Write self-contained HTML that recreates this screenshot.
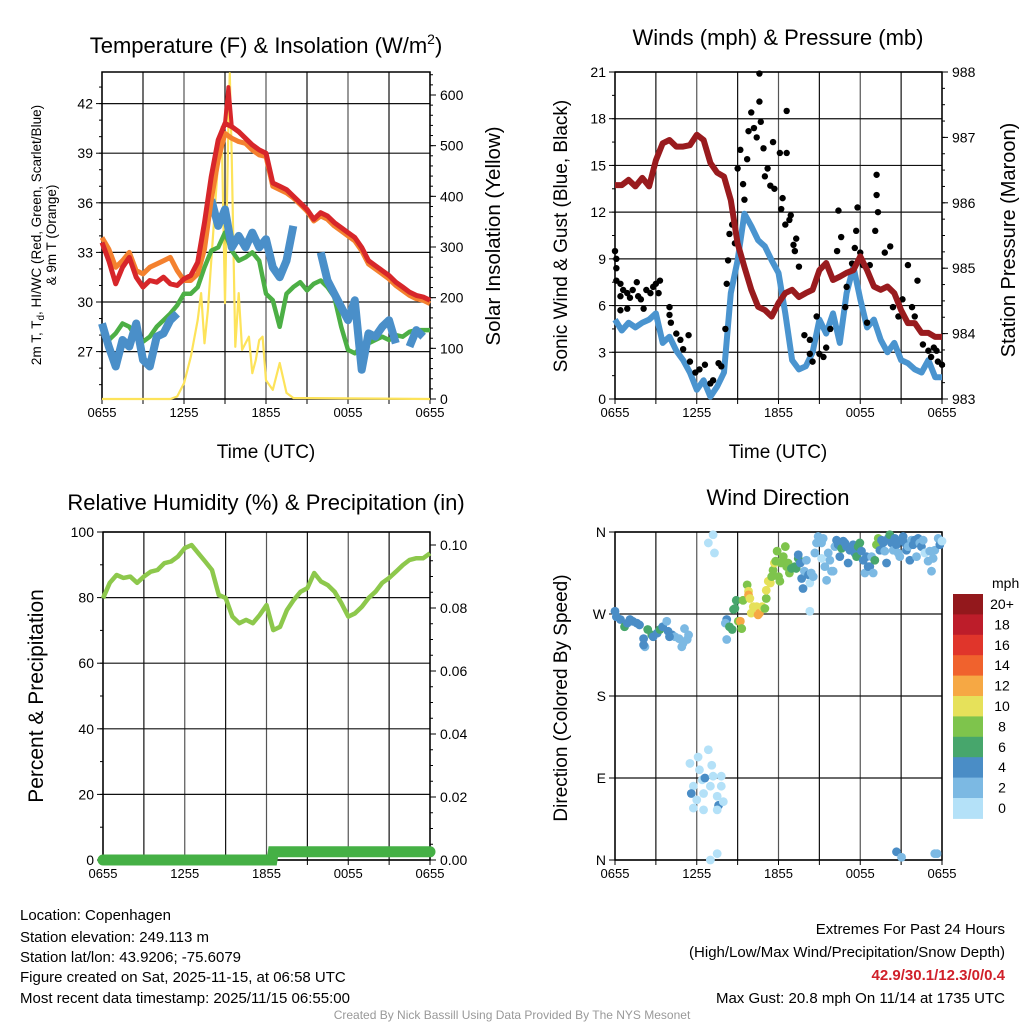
<!DOCTYPE html>
<html><head><meta charset="utf-8"><style>
html,body{margin:0;padding:0;background:#fff;}
svg{display:block;font-family:"Liberation Sans",Arial,sans-serif;}
</style></head><body>
<svg id="c" width="1024" height="1024" viewBox="0 0 1024 1024">
<rect x="0" y="0" width="1024" height="1024" fill="#fff"/>
<text x="266" y="53" font-size="22" text-anchor="middle">Temperature (F) &amp; Insolation (W/m<tspan font-size="14" dy="-9">2</tspan><tspan dy="9">)</tspan></text>
<text x="778" y="45" font-size="22" text-anchor="middle">Winds (mph) &amp; Pressure (mb)</text>
<text x="266" y="510" font-size="22" text-anchor="middle">Relative Humidity (%) &amp; Precipitation (in)</text>
<text x="778" y="505" font-size="22" text-anchor="middle">Wind Direction</text>
<text x="266" y="458" font-size="19" text-anchor="middle">Time (UTC)</text>
<text x="778" y="458" font-size="19" text-anchor="middle">Time (UTC)</text>
<text transform="translate(41,235) rotate(-90)" font-size="13.5" text-anchor="middle">2m T, T<tspan font-size="10" dy="3">d</tspan><tspan dy="-3">, HI/WC (Red, Green, Scarlet/Blue)</tspan></text>
<text transform="translate(56,235) rotate(-90)" font-size="13.5" text-anchor="middle">&amp; 9m T (Orange)</text>
<text transform="translate(500,236) rotate(-90)" font-size="20.5" text-anchor="middle">Solar Insolation (Yellow)</text>
<text transform="translate(567,236) rotate(-90)" font-size="19" text-anchor="middle">Sonic Wind &amp; Gust (Blue, Black)</text>
<text transform="translate(1015,240) rotate(-90)" font-size="20" text-anchor="middle">Station Pressure (Maroon)</text>
<text transform="translate(43,696) rotate(-90)" font-size="21" text-anchor="middle">Percent &amp; Precipitation</text>
<text transform="translate(567,698) rotate(-90)" font-size="19" text-anchor="middle">Direction (Colored By Speed)</text>
<g font-size="15">
<text x="20" y="920">Location: Copenhagen</text>
<text x="20" y="942">Station elevation: 249.113 m</text>
<text x="20" y="962">Station lat/lon: 43.9206; -75.6079</text>
<text x="20" y="982">Figure created on Sat, 2025-11-15, at 06:58 UTC</text>
<text x="20" y="1003">Most recent data timestamp: 2025/11/15 06:55:00</text>
</g>
<g font-size="15" text-anchor="end">
<text x="1005" y="934">Extremes For Past 24 Hours</text>
<text x="1005" y="957">(High/Low/Max Wind/Precipitation/Snow Depth)</text>
<text x="1005" y="980" fill="#d0202a" font-weight="bold">42.9/30.1/12.3/0/0.4</text>
<text x="1005" y="1003">Max Gust: 20.8 mph On 11/14 at 1735 UTC</text>
</g>
<text x="512" y="1019" font-size="12" fill="#999" text-anchor="middle">Created By Nick Bassill Using Data Provided By The NYS Mesonet</text>
</svg>
<script>
// ---------- data ----------
const xTickLabels = ["0655","1255","1855","0055","0655"];
const halfHours = Array.from({length:49},(_,i)=>i*0.5);
const tempRed = [33.6,32.5,31.1,32.1,32.7,31.5,30.9,31.3,31.2,31.5,31.1,31.0,31.4,31.6,32.4,34.8,37.6,39.8,40.8,40.6,40.3,39.9,39.5,39.2,39.0,37.2,37.0,36.8,36.4,36.0,35.6,35.0,35.4,35.2,34.8,34.5,34.2,33.9,33.3,32.5,32.2,31.9,31.6,31.2,30.9,30.6,30.4,30.3,30.1];
const tempOrange = [33.9,33.2,32.1,32.5,33.0,31.9,31.7,32.1,32.3,32.5,32.7,31.9,31.3,31.3,31.7,33.2,36.2,38.6,40.2,39.9,39.7,39.6,39.2,38.9,38.8,37.0,36.8,36.6,36.3,35.9,35.5,34.9,35.2,35.0,34.6,34.3,34.0,33.7,33.1,32.3,32.0,31.7,31.4,31.0,30.7,30.4,30.2,30.1,29.9];
const tempPeakHour = [9.0,9.25,9.5];
const tempPeakValue = [40.8,43.0,40.6];
const dewGreen = [28.2,27.7,28.1,28.7,28.5,27.9,27.6,27.9,28.5,28.9,29.3,29.8,30.5,30.5,30.9,32.1,33.1,33.3,34.2,33.1,32.5,32.7,33.0,32.5,30.5,30.1,28.5,30.5,30.9,31.2,30.7,31.1,31.3,30.9,30.3,28.5,27.1,26.9,27.3,27.5,27.7,27.9,27.7,28.0,27.9,28.2,28.3,28.3,28.3];
const wcBlue = [28.7,27.3,26.1,27.7,27.3,28.7,26.5,26.1,27.9,28.1,28.9,29.3,null,null,null,null,36.2,34.6,35.6,33.3,34.0,33.3,34.2,33.3,33.8,32.1,31.5,32.5,34.6,null,null,null,33.0,31.3,30.5,29.7,28.9,30.1,25.9,28.1,27.9,28.5,28.9,27.5,null,27.3,28.3,27.9,null];
const solarHours = [0,5,5.5,6,6.5,7,7.25,7.5,7.75,8,8.25,8.5,8.75,9,9.25,9.35,9.5,9.75,10,10.25,10.5,10.75,11,11.25,11.5,11.75,12,12.5,13,13.5,14,24];
const solarValues = [0,0,5,31,83,156,209,110,175,274,373,471,537,189,537,643,471,103,209,97,110,123,51,77,116,123,37,18,71,12,2,0];
const pressure = [986.27,986.27,986.35,986.25,986.38,986.25,986.65,986.91,986.96,986.86,986.86,986.88,987.04,986.96,986.61,986.46,986.40,986.04,985.38,985.02,984.67,984.41,984.36,984.26,984.47,984.62,984.67,984.56,984.62,984.67,984.97,985.08,984.82,984.87,984.93,984.97,985.18,984.97,984.72,984.67,984.72,984.62,984.36,984.16,984.16,984.01,984.01,983.95,983.95];
const windSpeed = [5.1,4.4,4.9,4.6,4.9,5.1,5.5,3.6,4.0,3.1,2.5,1.7,0.6,1.2,0.15,0.8,1.7,6.8,8.9,11.9,11.1,10.2,9.8,8.9,8.1,5.5,2.5,1.9,2.1,3.0,5.1,4.2,5.5,3.6,6.8,8.5,6.4,4.6,5.1,3.8,3.0,3.6,2.5,2.3,1.9,1.7,2.5,1.4,1.4];
const gustHours = [0,0.1,0.1,0.1,0.4,0.6,0.4,0.9,1.1,1.3,1.6,1.7,1.9,2.1,2.3,2.6,2.8,3.0,3.3,3.2,0.4,0.9,4.0,4.0,4.1,4.5,4.8,5.4,5.0,5.5,5.9,6.2,6.6,7.0,7.2,7.6,7.8,8.1,8.2,8.3,8.4,8.6,8.8,9.0,9.2,9.4,9.5,9.7,9.8,10.0,10.2,10.4,10.6,10.6,10.7,10.9,11.0,11.2,11.4,11.6,11.7,12.1,12.2,12.3,12.5,12.6,12.6,12.8,12.9,13.1,13.2,13.3,13.5,13.9,14.3,14.3,14.5,14.8,15.0,15.3,15.5,15.8,16.3,16.4,16.6,16.9,17.0,17.4,17.6,17.7,17.8,18.0,18.2,18.5,18.7,19.1,19.2,19.2,19.3,19.8,20.2,20.4,20.8,21.1,21.5,21.8,22.0,22.2,22.6,23.0,23.2,23.6,23.7,24.0,23.4];
const gustValues = [9.5,9.0,8.4,7.6,7.4,7.0,6.6,6.8,6.5,7.0,7.5,6.6,6.4,5.8,7.0,6.8,7.2,7.4,7.6,6.8,5.7,5.8,5.9,5.4,4.9,4.2,3.8,4.1,3.2,2.4,1.7,1.9,2.2,1.0,1.2,2.3,2.1,4.5,7.4,8.9,10.6,11.2,10.0,14.8,16.0,13.8,12.8,15.4,17.2,18.4,17.4,16.8,19.1,20.9,17.8,16.1,14.3,14.8,13.7,16.5,13.5,15.8,12.2,12.9,11.2,18.5,15.8,11.5,11.8,9.9,9.5,10.3,8.5,4.1,3.8,2.9,2.4,5.3,2.9,2.7,3.3,4.5,9.5,12.1,10.4,5.9,7.2,8.7,9.7,10.8,12.3,9.4,8.6,4.9,8.6,10.8,13.1,14.4,12.0,9.4,9.8,5.9,5.3,6.4,8.6,5.9,5.3,7.6,3.5,3.1,2.7,3.1,2.4,2.2,3.3];
const rhValues = [79.8,84.5,86.9,86.0,86.4,84.5,86.4,87.9,88.4,90.5,91.0,92.5,95.1,96.0,93.5,91.0,88.4,80.8,79.9,74.2,72.2,73.2,72.2,74.7,77.7,70.1,71.1,76.2,79.3,81.8,82.9,87.5,84.9,83.8,81.8,78.3,74.2,75.2,77.2,79.9,81.8,84.5,86.0,87.9,89.9,91.5,92.0,92.0,93.5];
const precipHours = [0,12.4,12.5,24];
const precipValues = [0,0,0.0026,0.0026];
const dirHours = [0,0.1,0.4,0.7,0.9,1.1,1.3,1.6,1.8,2.1,2.2,2.1,2.4,2.7,2.8,3.1,3.3,3.5,3.8,3.9,4.2,4.4,4.7,4.9,5.0,5.1,5.4,5.3,4.0,
5.5,5.75,5.6,6.0,6.1,6.2,6.4,6.5,6.6,6.85,7.1,7.2,7.0,7.5,7.6,7.8,7.8,7.95,5.75,6.5,7.5,7.0,7.5,6.85,7.3,7.2,
8.2,8.1,8.2,8.4,8.6,8.7,8.8,8.9,9.05,9.2,9.3,9.4,9.7,9.8,9.8,9.9,10.0,10.15,10.4,10.5,10.6,10.8,11.0,11.1,11.1,11.25,11.4,11.5,11.6,11.7,11.8,11.9,12.0,12.1,12.2,12.35,12.5,12.6,12.7,12.8,12.95,13.2,13.3,13.45,13.45,13.6,13.7,13.8,13.9,14.05,14.2,14.3,14.4,14.55,14.3,
14.67,14.79,14.91,15.04,15.16,15.16,15.28,15.4,15.53,15.65,15.77,15.89,16.01,16.14,16.26,16.38,16.5,16.63,16.75,16.87,16.99,17.11,17.24,17.36,17.48,17.6,17.73,17.85,17.97,18.09,18.22,18.34,18.46,18.58,18.7,18.83,18.95,19.07,19.19,19.32,19.44,19.56,19.68,19.8,19.93,20.05,20.17,20.29,20.42,20.54,20.66,20.78,20.9,21.03,21.15,21.27,21.39,21.51,21.64,21.76,21.88,22.0,22.13,22.25,22.37,22.49,22.62,22.74,22.98,23.1,23.23,23.35,23.47,23.72,23.84,23.96,24.0,
20.66,21.03,23.47,23.64];
const dirDegrees = [273,267,264,256,260,264,262,260,258,243,234,236,253,247,245,249,253,256,262,251,247,245,243,234,238,254,247,242,245,
106,81,73,66,113,99,88,73,90,121,104,92,81,70,60,81,92,64,57,55,55,0,7,348,337,357,
264,260,242,256,253,275,276,285,262,262,254,285,302,295,291,287,271,278,278,269,271,278,276,287,296,306,304,311,318,326,328,339,311,306,326,333,344,322,326,315,320,322,320,331,335,326,309,298,317,329,313,304,315,311,273,
337,348,355,353,348,331,353,322,307,337,329,317,317,344,351,346,333,342,350,348,344,326,340,342,346,337,333,344,348,339,329,315,333,322,322,333,315,329,346,353,340,351,348,339,326,353,357,348,340,353,346,337,333,351,355,348,340,344,329,351,346,351,333,353,348,344,351,337,328,339,317,331,340,353,346,350,350,
9,3,7,7];
const dirSpeeds = [4,4,4,6,4,4,4,4,4,4,2,4,6,6,4,4,6,4,2,4,4,2,2,2,2,2,2,2,4,
0,0,4,0,0,0,0,0,4,0,0,0,0,0,4,0,0,0,0,0,0,0,0,0,0,0,
4,2,2,6,6,6,6,6,8,12,8,8,8,10,12,10,10,10,10,12,12,10,8,8,10,10,10,8,8,10,8,8,8,8,8,8,8,8,8,8,6,6,6,6,4,4,4,4,2,2,4,0,2,2,0,
2,2,2,2,2,0,2,2,2,2,2,2,2,2,4,4,4,6,4,4,4,4,4,4,4,4,6,6,6,4,4,2,4,4,4,2,2,6,8,8,4,4,4,2,4,4,6,4,2,4,4,2,2,4,4,4,4,2,4,2,4,4,2,4,2,4,2,0,2,2,2,2,2,2,4,2,0,
4,2,2,2];
const speedLabels = ["0","2","4","6","8","10","12","14","16","18","20+"];
const speedColors = ["#b4e1f8","#7cb9e3","#4a8dc6","#47a66c","#7ec44c","#e6e15a","#f6a844","#f0622d","#e0352b","#bd1d2a","#93181c"];

// ---------- helpers ----------
const NS="http://www.w3.org/2000/svg";
const svg=document.getElementById('c');
function mk(tag,attrs,parent){const e=document.createElementNS(NS,tag);for(const k in attrs)e.setAttribute(k,attrs[k]);(parent||svg).appendChild(e);return e;}
function lin(d0,d1,r0,r1){return v=>r0+(v-d0)*(r1-r0)/(d1-d0);}
function pathFrom(xs,ys,fx,fy){let d="",pen=false;for(let i=0;i<xs.length;i++){if(ys[i]===null||ys[i]===undefined){pen=false;continue;}d+=(pen?"L":"M")+fx(xs[i]).toFixed(1)+","+fy(ys[i]).toFixed(1);pen=true;}return d;}

const panels={
 p1:{x0:102,x1:430,y0:72,y1:399},
 p2:{x0:615,x1:942,y0:72,y1:399},
 p3:{x0:103,x1:430,y0:532,y1:860},
 p4:{x0:615,x1:942,y0:532,y1:860}
};

function frame(p,name,leftTicks,leftFmt,leftY,rightTicks,rightFmt,rightY,minorL,minorR){
 const g=mk('g',{});
 
 
 const fx=lin(0,24,p.x0,p.x1);
 for(let h=0;h<=24;h+=3){
  const l=mk('line',{x1:fx(h),x2:fx(h),y1:p.y0,y2:p.y1,stroke:(h%6===0)?'#555':'#111','stroke-width':1.2},g);
  
  
  const t=mk('line',{x1:fx(h),x2:fx(h),y1:p.y1,y2:p.y1+5,stroke:'#000','stroke-width':1},g);
  
  
 }
 xTickLabels.forEach((lab,i)=>{
  const t=mk('text',{x:fx(i*6),y:p.y1+18,'font-size':13,'text-anchor':'middle'},g);
  t.textContent=lab;
  
  
 });
 leftTicks.forEach(v=>{
  const y=leftY(v);
  const l=mk('line',{x1:p.x0,x2:p.x1,y1:y,y2:y,stroke:'#111','stroke-width':1.2},g);
  
  
  const tk=mk('line',{x1:p.x0-6,x2:p.x0,y1:y,y2:y,stroke:'#000'},g);
  
  
  const t=mk('text',{x:p.x0-9,y:y+5,'font-size':14,'text-anchor':'end'},g);
  t.textContent=leftFmt(v);
  
  
 });
 (minorL||[]).forEach(v=>{const y=leftY(v);const tk=mk('line',{x1:p.x0-3,x2:p.x0,y1:y,y2:y,stroke:'#000'},g);
  
  });
 if(rightTicks){
  rightTicks.forEach(v=>{
   const y=rightY(v);
   const tk=mk('line',{x1:p.x1,x2:p.x1+6,y1:y,y2:y,stroke:'#000'},g);
   
   
   const t=mk('text',{x:p.x1+10,y:y+5,'font-size':14},g);
   t.textContent=rightFmt(v);
   
   
  });
  (minorR||[]).forEach(v=>{const y=rightY(v);const tk=mk('line',{x1:p.x1,x2:p.x1+3,y1:y,y2:y,stroke:'#000'},g);
   
   });
 }
 const b=mk('rect',{x:p.x0,y:p.y0,width:p.x1-p.x0,height:p.y1-p.y0,fill:'none',stroke:'#000','stroke-width':1.5},g);
 
 
 return fx;
}
function range(a,b,s){const r=[];for(let v=a;v<=b+1e-9;v+=s)r.push(+v.toFixed(4));return r;}

// ---------- panel 1 ----------
{
 const p=panels.p1;
 const fy=lin(30,33,302,252.4);
 const fs=lin(0,600,399,95);
 const fx=frame(p,'temp',range(27,42,3),v=>v,fy,range(0,600,100),v=>v,fs,range(25,43,1),range(0,640,20));
 const clipG=mk('g',{});
 
 
 const s1=mk('path',{d:pathFrom(solarHours,solarValues,fx,fs),fill:'none',stroke:'#fde35a','stroke-width':2.2,'stroke-linejoin':'round'},clipG);
 
 
 const s2=mk('path',{d:pathFrom(halfHours,dewGreen,fx,fy),fill:'none',stroke:'#4caf45','stroke-width':4.5,'stroke-linejoin':'round'},clipG);
 
 
 const s3=mk('path',{d:pathFrom(halfHours,wcBlue,fx,fy),fill:'none',stroke:'#4a8fc9','stroke-width':8,'stroke-linejoin':'round'},clipG);
 
 
 const s4=mk('path',{d:pathFrom(halfHours,tempOrange,fx,fy),fill:'none',stroke:'#f4812f','stroke-width':5,'stroke-linejoin':'round'},clipG);
 
 
 const s5=mk('path',{d:pathFrom(halfHours,tempRed,fx,fy),fill:'none',stroke:'#d7262a','stroke-width':5,'stroke-linejoin':'round'},clipG);
 
 
 const s6=mk('path',{d:pathFrom(tempPeakHour,tempPeakValue,fx,fy),fill:'none',stroke:'#d7262a','stroke-width':4,'stroke-linejoin':'round'},clipG);
 
 
}
// ---------- panel 2 ----------
{
 const p=panels.p2;
 const fy=lin(0,21,399,72);
 const fp=lin(983,988,399,72);
 const fx=frame(p,'wind',range(0,21,3),v=>v,fy,range(983,988,1),v=>v,fp,range(0,21,1.5),range(983,988,0.25));
 const g=mk('g',{});
 
 
 const w=mk('path',{d:pathFrom(halfHours,windSpeed,fx,fy),fill:'none',stroke:'#4a94cf','stroke-width':6,'stroke-linejoin':'round'},g);
 
 
 gustHours.forEach((h,i)=>{
  const c=mk('circle',{cx:fx(h),cy:fy(gustValues[i]),r:3.2,fill:'#000'},g);
  
  
 });
 const pr=mk('path',{d:pathFrom(halfHours,pressure,fx,fp),fill:'none',stroke:'#991b1e','stroke-width':6,'stroke-linejoin':'round'},g);
 
 
}
// ---------- panel 3 ----------
{
 const p=panels.p3;
 const fy=lin(0,100,860,532);
 const fr=lin(0,0.1,860,545);
 const fx=frame(p,'humidity',range(0,100,20),v=>v,fy,range(0,0.1,0.02),v=>v.toFixed(2),fr,range(0,100,10),range(0,0.104,0.005));
 const g=mk('g',{});
 
 
 const rh=mk('path',{d:pathFrom(halfHours,rhValues,fx,fy),fill:'none',stroke:'#8dc84c','stroke-width':4.5,'stroke-linejoin':'round'},g);
 
 
 const pc=mk('path',{d:pathFrom(precipHours,precipValues,fx,fr),fill:'none',stroke:'#45b045','stroke-width':11,'stroke-linecap':'round'},g);
 
 
}
// ---------- panel 4 ----------
{
 const p=panels.p4;
 const fy=lin(0,360,860,532);
 const dirTicks=[0,90,180,270,360];
 const dirNames=["N","E","S","W","N"];
 const fx=frame(p,'direction',dirTicks,v=>dirNames[dirTicks.indexOf(v)],fy,null);
 const g=mk('g',{});
 
 
 dirHours.forEach((h,i)=>{
  const idx=Math.min(10,Math.floor(dirSpeeds[i]/2));
  const c=mk('circle',{cx:fx(h),cy:fy(dirDegrees[i]),r:4.4,fill:speedColors[idx]},g);
  
  
 });
 const cb=mk('g',{});
 
 
 const t=mk('text',{x:992,y:588,'font-size':14},cb);
 t.textContent='mph';
 
 
 const top=594,bh=20.4;
 speedColors.slice().reverse().forEach((col,i)=>{
  const r=mk('rect',{x:953,y:top+i*bh,width:30,height:bh+0.5,fill:col},cb);
  
  
  const l=mk('text',{x:1002,y:top+i*bh+15,'font-size':14,'text-anchor':'middle'},cb);
  l.textContent=speedLabels[10-i];
  
  
 });
}
</script>
</body></html>
